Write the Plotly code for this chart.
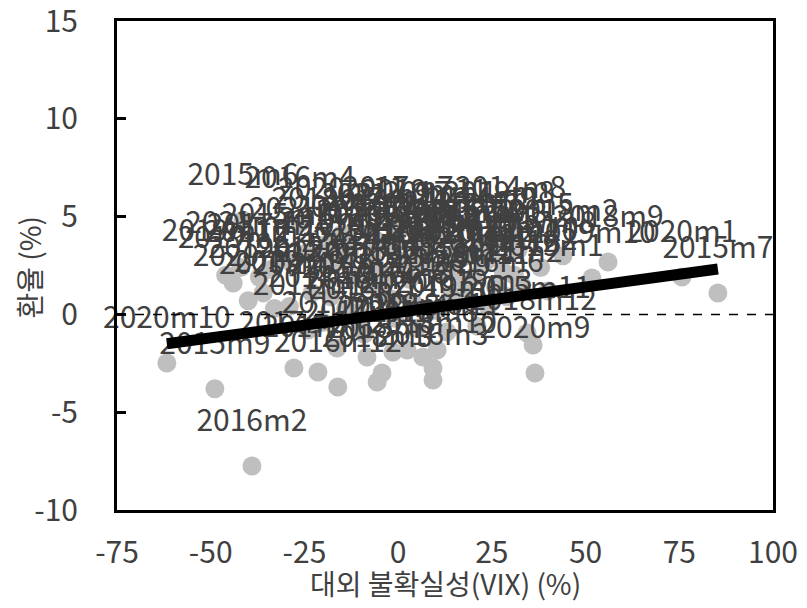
import plotly.graph_objects as go
import numpy as np

labels = []
for yr, last in [(2014, 12), (2015, 12), (2016, 12), (2017, 12), (2018, 12), (2019, 12), (2020, 12), (2021, 12)]:
    for m in range(1, last + 1):
        labels.append(f"{yr}m{m}")

vix = [12, -8, -14, -20, -5, -17, 6, 30, 22, 17, -3, 26,
       8, -12, 4, -10, -23, -41.4, 85.3, 19, -48.9, -30, 34.4, 14,
       28, -39.0, 9.3, -26.2, 1, 24, -9, -1, 10, 3, 18, -16.1,
       -24, -13, -27.8, 11, -6, -21.4, 0, 38, -16.3, -34, -8.3, 15,
       -4.3, 44, -5.6, -1.4, 32, 2.4, -19, 6.6, 56, 9.3, 10.4, 36.0,
       40, -44, 21, -36, -2, 13, -11, 27, -29, 51.7, 7, -46,
       75.7, 33, -40, -33, 16, -18, 5, -7, 36.5, -61.7, -15, 20,
       -42, 29, -3, -37, 23, -25, 14, 25, -6, 31, 18, 4]
fx = [2.1, 1.5, 0.3, -0.4, 1.2, 2.6, 3.3, 4.15, 3.6, 2.9, 3.5, 1.4,
      2.5, 1.9, 0.6, -0.5, 1.1, 4.83, 1.09, 3.0, -3.8, 2.8, -0.95, 1.0,
      2.2, -7.75, -3.35, 4.67, 2.7, 0.4, -1.0, -0.2, 0.2, 1.8, 0.8, -3.71,
      -0.8, 3.2, -2.74, 3.9, 2.3, -2.94, 4.2, 2.4, -1.72, 2.3, -2.18, 2.2,
      -3.0, 3.0, -3.46, -1.92, 3.3, -1.82, 3.6, -2.18, 2.68, -2.74, -1.82, -1.56,
      1.2, 1.6, -0.6, 1.1, 0.8, -0.9, 0.1, 3.9, 0.4, 1.86, 4.0, 2.0,
      1.91, 1.5, 0.7, 0.3, 3.4, 0.9, -0.7, 3.0, -3.0, -2.48, 4.1, 1.9,
      2.4, 0.9, 2.0, 1.9, 2.6, 3.1, 3.0, 2.9, 3.8, 2.0, 1.6, 2.7]

# trend line: y = a + b*x over the data range
trend_a = 0.1
trend_b = 0.026

x_ticks = [-75, -50, -25, 0, 25, 50, 75, 100]
y_ticks = [-10, -5, 0, 5, 10, 15]
x_title = "대외 불확실성(VIX) (%)"
y_title = "환율 (%)"

xs = np.array(vix)
tx = [xs.min(), xs.max()]
ty = [trend_a + trend_b * v for v in tx]

fig = go.Figure()
fig.add_trace(go.Scatter(x=vix, y=fx, mode="markers",
                         marker=dict(size=19, color="#bfbfbf"), hoverinfo="skip"))
fig.add_trace(go.Scatter(x=vix, y=fx, mode="markers+text", text=labels,
                         textposition="top center",
                         textfont=dict(family="Noto Sans CJK KR", size=30, color="#404040"),
                         marker=dict(size=42, color="rgba(0,0,0,0)"), hoverinfo="skip",
                         cliponaxis=False))
fig.add_trace(go.Scatter(x=[x_ticks[0], x_ticks[-1]], y=[0, 0], mode="lines",
                         line=dict(color="black", width=1.5, dash="dash"), hoverinfo="skip"))
fig.add_trace(go.Scatter(x=tx, y=ty, mode="lines",
                         line=dict(color="black", width=11), hoverinfo="skip"))

fig.update_layout(
    width=807, height=608,
    margin=dict(l=117, r=34, t=21, b=98, autoexpand=False),
    paper_bgcolor="white", plot_bgcolor="white",
    showlegend=False,
    font=dict(family="Noto Sans CJK KR", color="#404040"),
    annotations=[
        dict(text=x_title, xref="paper", yref="paper", x=0.5, y=0, yshift=-73,
             xanchor="center", yanchor="middle", showarrow=False,
             font=dict(size=28, color="#404040")),
        dict(text=y_title, xref="paper", yref="paper", x=0, y=0.5, xshift=-89, yshift=-2,
             xanchor="center", yanchor="middle", showarrow=False, textangle=-90,
             font=dict(size=28, color="#404040")),
    ],
)
fig.update_xaxes(range=[-75, 100], tickvals=x_ticks, ticktext=[str(v) for v in x_ticks],
                 showgrid=False, zeroline=False, showline=True, linewidth=3, linecolor="black",
                 mirror=True, ticks="", tickfont=dict(size=30, color="#404040"),
                 ticklabelstandoff=14, automargin=False, ticklabeloverflow="allow")
fig.update_yaxes(range=[-10, 15], tickvals=y_ticks, ticktext=[str(v) for v in y_ticks],
                 showgrid=False, zeroline=False, showline=True, linewidth=3, linecolor="black",
                 mirror=True, ticks="inside", ticklen=9, tickwidth=3, tickcolor="black",
                 tickfont=dict(size=30, color="#404040"), ticklabelstandoff=30,
                 automargin=False, ticklabeloverflow="allow")

fig.write_html("out.html")
